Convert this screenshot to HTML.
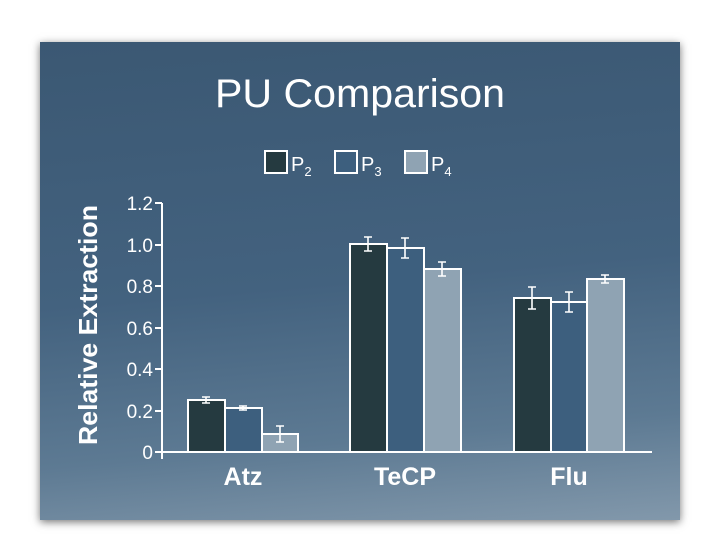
<!DOCTYPE html>
<html><head><style>
body{margin:0;width:720px;height:560px;background:#fff;overflow:hidden}
#p{position:absolute;left:40px;top:42px;width:640px;height:478px;background:linear-gradient(175deg,#3b5873 0%,#43627f 50%,#5d7a93 80%,#8298ab 100%);box-shadow:0 2px 8px rgba(0,0,0,.55)}
svg{position:absolute;left:0;top:0}
text{font-family:"Liberation Sans",sans-serif;fill:#fff}
</style></head><body>
<div id="p"></div>
<svg width="720" height="560">
<text x="360" y="107" font-size="40" text-anchor="middle" textLength="290" lengthAdjust="spacingAndGlyphs">PU Comparison</text>
<g stroke="#fff" stroke-width="2">
<rect x="265" y="151" width="22" height="22" fill="#253a40"/>
<rect x="335" y="151" width="22" height="22" fill="#3d5f7e"/>
<rect x="405" y="151" width="22" height="22" fill="#8fa3b3"/>
</g>
<text x="291" y="171" font-size="20">P<tspan font-size="13" dy="5">2</tspan></text>
<text x="361" y="171" font-size="20">P<tspan font-size="13" dy="5">3</tspan></text>
<text x="431" y="171" font-size="20">P<tspan font-size="13" dy="5">4</tspan></text>
<text transform="translate(97,325) rotate(-90)" font-size="26" font-weight="bold" text-anchor="middle" textLength="240" lengthAdjust="spacingAndGlyphs">Relative Extraction</text>
<g stroke="#fff" stroke-width="2" fill="none">
<path d="M162 203V459M162 452H652"/>
<path d="M155 203H162M155 245H162M155 286H162M155 328H162M155 369H162M155 411H162M155 452H162"/>
</g>
<g font-size="19" text-anchor="end">
<text x="153" y="210">1.2</text><text x="153" y="252">1.0</text><text x="153" y="293">0.8</text><text x="153" y="335">0.6</text><text x="153" y="376">0.4</text><text x="153" y="418">0.2</text><text x="153" y="459">0</text>
</g>
<g stroke="#fff" stroke-width="2">
<rect x="188" y="400" width="37" height="52" fill="#253a40"/>
<rect x="225" y="408" width="37" height="44" fill="#3d5f7e"/>
<rect x="262" y="434" width="36" height="18" fill="#8fa3b3"/>
<rect x="350" y="244" width="37" height="208" fill="#253a40"/>
<rect x="387" y="248" width="37" height="204" fill="#3d5f7e"/>
<rect x="424" y="269" width="37" height="183" fill="#8fa3b3"/>
<rect x="514" y="298" width="37" height="154" fill="#253a40"/>
<rect x="551" y="302" width="36" height="150" fill="#3d5f7e"/>
<rect x="587" y="279" width="37" height="173" fill="#8fa3b3"/>
</g>
<g stroke="#fff" stroke-width="1.6" fill="none">
<path d="M206 397V403M202 397H210M202 403H210"/>
<path d="M243 406V410M239 406H247M239 410H247"/>
<path d="M280 426V442M276 426H284M276 442H284"/>
<path d="M368 237V251M364 237H372M364 251H372"/>
<path d="M405 238V258M401 238H409M401 258H409"/>
<path d="M442 262V276M438 262H446M438 276H446"/>
<path d="M532 287V309M528 287H536M528 309H536"/>
<path d="M569 292V312M565 292H573M565 312H573"/>
<path d="M605 275V283M601 275H609M601 283H609"/>
</g>
<g font-size="25" font-weight="bold" text-anchor="middle">
<text x="243" y="485">Atz</text><text x="405" y="485">TeCP</text><text x="569" y="485">Flu</text>
</g>
</svg>
</body></html>
